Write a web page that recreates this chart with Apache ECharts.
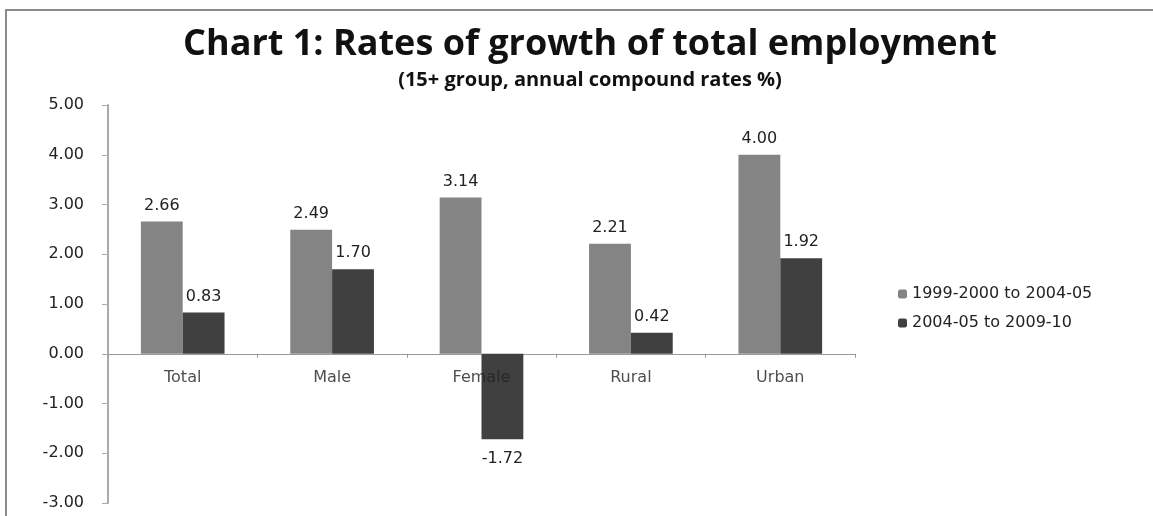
<!DOCTYPE html>
<html><head><meta charset="utf-8">
<script src="https://cdn.jsdelivr.net/npm/echarts@6/dist/echarts.min.js"></script>
<style>html,body{margin:0;padding:0;background:#fff}#c{width:1153px;height:516px}</style>
</head><body><div id="c"></div>
<script>
const categories = ["Total", "Male", "Female", "Rural", "Urban"];
const seriesNames = ["1999-2000 to 2004-05", "2004-05 to 2009-10"];
const series1 = [2.66, 2.49, 3.14, 2.21, 4.00];
const series2 = [0.83, 1.70, -1.72, 0.42, 1.92];
const yTicks = {min: -3, max: 5, interval: 1};

const chart = echarts.init(document.getElementById('c'));
const FONT = 'DejaVu Sans';
const FS = 16;
function mk(vals){
  return vals.map(v => ({value: v, label: {position: v < 0 ? 'bottom' : 'top', distance: v < 0 ? 12 : 8}}));
}
const lbl = {show: true, fontFamily: FONT, fontSize: FS, color: '#222', formatter: p => p.value.toFixed(2)};
chart.setOption({
  animation: false,
  backgroundColor: '#fff',
  graphic: [{type: 'rect', shape: {x: 6, y: 10, width: 1160, height: 520}, style: {fill: 'none', stroke: '#8c8c8c', lineWidth: 2}}],
  title: {
    text: 'Chart 1: Rates of growth of total employment',
    subtext: '(15+ group, annual compound rates %)',
    left: 585, textAlign: 'center', top: 22, itemGap: 7,
    textStyle: {fontFamily: 'Open Sans', fontWeight: 'bold', fontSize: 36, color: '#111'},
    subtextStyle: {fontFamily: 'Open Sans', fontWeight: 'bold', fontSize: 20, color: '#111'}
  },
  legend: {
    orient: 'vertical', left: 893, top: 281, itemWidth: 9, itemHeight: 9, itemGap: 13,
    textStyle: {fontFamily: FONT, fontSize: FS, color: '#222'},
    data: seriesNames
  },
  grid: {left: 108, right: 298, top: 105, bottom: 13, outerBoundsMode: 'none', containLabel: false},
  xAxis: {
    type: 'category', data: categories,
    axisLine: {onZero: true, lineStyle: {color: '#999', width: 1}},
    axisTick: {show: true, length: 4, inside: false, lineStyle: {color: '#999'}},
    axisLabel: {show: false}
  },
  yAxis: {
    type: 'value', min: yTicks.min, max: yTicks.max, interval: yTicks.interval,
    axisLine: {show: true, lineStyle: {color: '#aaa', width: 2}},
    axisTick: {show: true, length: 6, lineStyle: {color: '#aaa'}},
    splitLine: {show: false},
    axisLabel: {fontFamily: FONT, fontSize: FS, color: '#222', margin: 24, formatter: v => v.toFixed(2)}
  },
  series: [
    {name: seriesNames[0], type: 'bar', data: mk(series1), barGap: '0%', barCategoryGap: '44%',
     itemStyle: {color: '#848484'}, label: lbl},
    {name: seriesNames[1], type: 'bar', data: mk(series2),
     itemStyle: {color: '#404040'}, label: lbl},
    {type: 'scatter', data: categories.map(c => [c, 0]), symbolSize: 0, silent: true, z: 10,
     label: {show: true, position: 'bottom', distance: 16, fontFamily: FONT, fontSize: FS, color: '#222',
             formatter: p => p.value[0]}}
  ]
});
</script></body></html>
